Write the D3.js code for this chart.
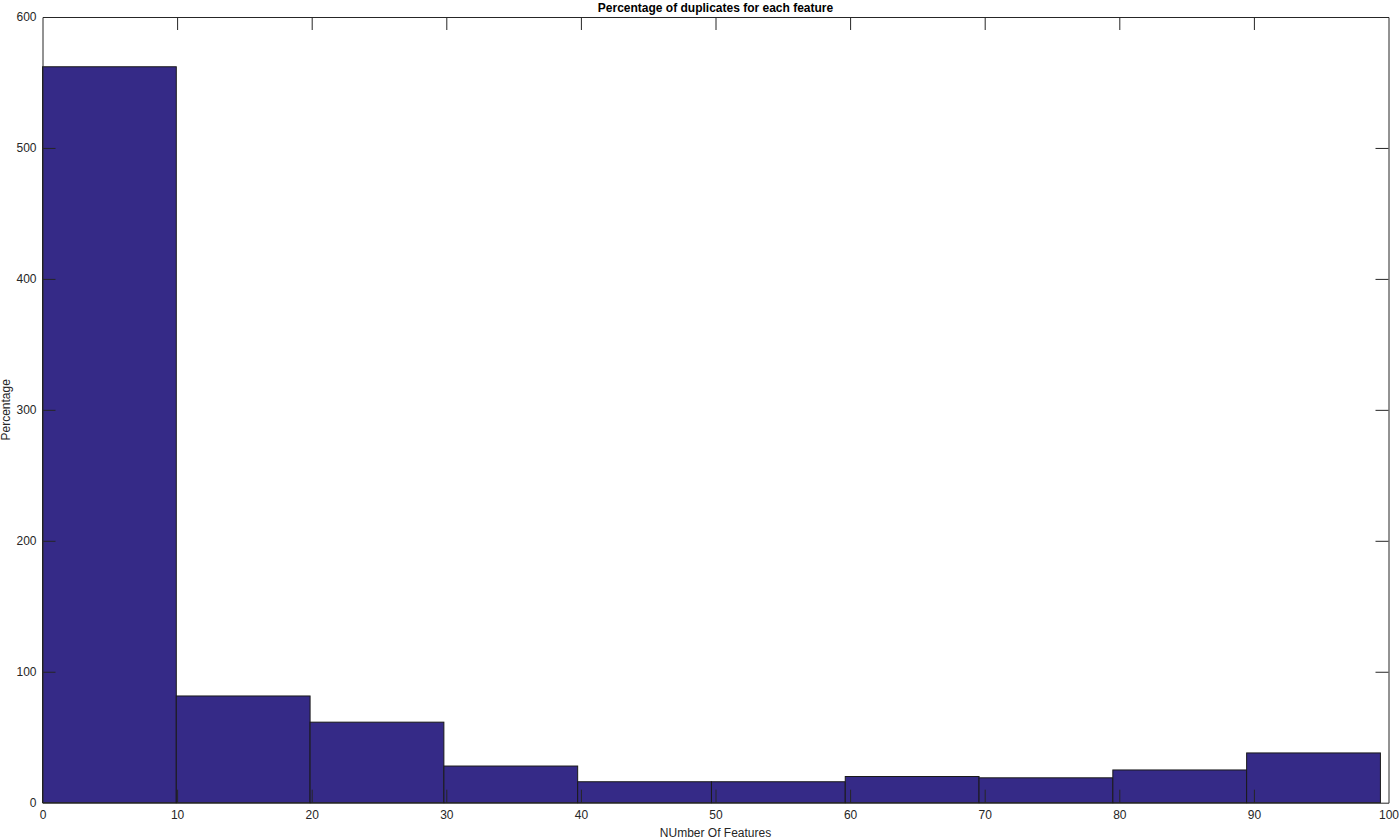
<!DOCTYPE html>
<html>
<head>
<meta charset="utf-8">
<script src="https://cdn.jsdelivr.net/npm/d3@7"></script>
<style>
html,body{margin:0;padding:0;background:#fff;}
text{font-family:"Liberation Sans",Arial,Helvetica,sans-serif;}
</style>
</head>
<body>
<svg id="chart" width="1400" height="840"></svg>
<script>
const binEdges = [0, 9.94, 19.88, 29.82, 39.76, 49.7, 59.64, 69.58, 79.52, 89.46, 99.4];
const counts = [562, 81.5, 61.5, 28, 16, 16, 20, 19, 25, 38];
const xTicks = [0, 10, 20, 30, 40, 50, 60, 70, 80, 90, 100];
const yTicks = [0, 100, 200, 300, 400, 500, 600];
const titleText = "Percentage of duplicates for each feature";
const xLabelText = "NUmber Of Features";
const yLabelText = "Percentage";

const svg = d3.select("#chart");
const L = 42.5, R = 1388.5, T = 17, B = 802.7;
const x = d3.scaleLinear().domain([0, 100]).range([L, R]);
const y = d3.scaleLinear().domain([0, 600]).range([B, T]);
const axisColor = "#262626";
const tickLen = 13;

const bins = counts.map((c, i) => ({x0: binEdges[i], x1: binEdges[i + 1], v: c}));

svg.append("g").selectAll("rect").data(bins).join("rect")
  .attr("x", d => x(d.x0))
  .attr("y", d => y(d.v))
  .attr("width", d => x(d.x1) - x(d.x0))
  .attr("height", d => y(0) - y(d.v))
  .attr("fill", "#352A87")
  .attr("stroke", "#1a1a1a")
  .attr("stroke-width", 1);

// axes (MATLAB box style, inward ticks)
const gB = svg.append("g").attr("transform", `translate(0,${B})`)
  .call(d3.axisBottom(x).tickValues(xTicks).tickSizeInner(-tickLen).tickSizeOuter(0).tickPadding(8));
const gT = svg.append("g").attr("transform", `translate(0,${T})`)
  .call(d3.axisTop(x).tickValues(xTicks).tickSizeInner(-tickLen).tickSizeOuter(0).tickFormat(""));
const gL = svg.append("g").attr("transform", `translate(${L},0)`)
  .call(d3.axisLeft(y).tickValues(yTicks).tickSizeInner(-tickLen).tickSizeOuter(0).tickPadding(6));
const gR = svg.append("g").attr("transform", `translate(${R},0)`)
  .call(d3.axisRight(y).tickValues(yTicks).tickSizeInner(-tickLen).tickSizeOuter(0).tickFormat(""));

[gB, gT, gL, gR].forEach(g => {
  g.selectAll("path.domain").attr("stroke", axisColor).attr("stroke-width", 1);
  g.selectAll(".tick line").attr("stroke", axisColor).attr("stroke-width", 1);
  g.selectAll(".tick text").attr("fill", axisColor).attr("font-size", 12)
    .attr("font-family", '"Liberation Sans",Arial,Helvetica,sans-serif');
});
// hide tick marks at the box corners
gB.selectAll(".tick line").filter(d => d === 0 || d === 100).remove();
gT.selectAll(".tick line").filter(d => d === 0 || d === 100).remove();
gL.selectAll(".tick line").filter(d => d === 0 || d === 600).remove();
gR.selectAll(".tick line").filter(d => d === 0 || d === 600).remove();

svg.append("text")
  .attr("x", (L + R) / 2).attr("y", 12)
  .attr("text-anchor", "middle")
  .attr("font-size", 12).attr("font-weight", "bold").attr("fill", "#000")
  .text(titleText);

svg.append("text")
  .attr("x", (L + R) / 2).attr("y", 837)
  .attr("text-anchor", "middle")
  .attr("font-size", 12).attr("fill", axisColor)
  .text(xLabelText);

svg.append("text")
  .attr("transform", `translate(10,${(T + B) / 2}) rotate(-90)`)
  .attr("text-anchor", "middle")
  .attr("font-size", 12).attr("fill", axisColor)
  .text(yLabelText);
</script>
</body>
</html>
